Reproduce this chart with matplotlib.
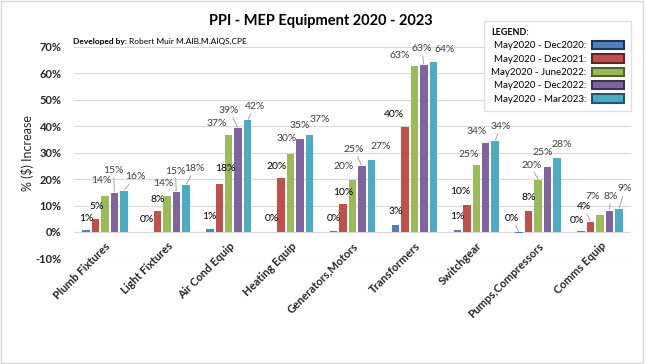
import matplotlib
matplotlib.use("Agg")
import matplotlib.pyplot as plt
import numpy as np
from matplotlib.patches import Patch, Rectangle

plt.rcParams['font.family'] = ['Lato', 'DejaVu Sans']

categories = ['Plumb Fixtures', 'Light Fixtures', 'Air Cond Equip', 'Heating Equip',
              'Generators,Motors', 'Transformers', 'Switchgear', 'Pumps,Compressors',
              'Comms Equip']
series_names = ['May2020 - Dec2020:', 'May2020 - Dec2021:', 'May2020 - June2022:',
                'May2020 - Dec2022:', 'May2020 - Mar2023:']
dec2020 = [0.6, 0.1, 1.3, 0.1, 0.2, 2.7, 0.8, -0.4, 0.2]
dec2021 = [4.8, 7.8, 18.0, 20.3, 10.4, 39.7, 10.2, 8.1, 3.8]
jun2022 = [13.8, 13.7, 36.6, 29.6, 19.8, 62.7, 25.3, 19.6, 6.6]
dec2022 = [14.6, 15.0, 39.2, 35.1, 24.8, 63.0, 33.6, 24.7, 8.1]
mar2023 = [15.6, 17.6, 42.2, 36.7, 27.3, 64.3, 34.3, 28.1, 8.8]
values = [dec2020, dec2021, jun2022, dec2022, mar2023]

colors = ['#4F81BD', '#C0504D', '#9BBB59', '#8064A2', '#4BACC6']
edges = ['#17375E', '#632523', '#4F6228', '#3F3151', '#215968']
label_colors = ['#000000', '#000000', '#404040', '#404040', '#404040']

# label offsets (pixels from bar top) as dragged in the original chart
offsets = [
    [(0, 12), (1, 13), (-4, 15), (-1, 23), (11, 14)],
    [(-1, 12), (0, 12), (-4, 12), (-1, 21), (9, 17)],
    [(0, 12), (6, 16), (-12, 12), (-9, 18), (7, 14)],
    [(0, 13), (-5, 12), (-4, 15), (0, 14), (10, 15)],
    [(0, 13), (0, 12), (-9, 13), (-8, 17), (9, 13)],
    [(0, 13), (-11, 13), (-15, 11), (-2, 17), (11, 13)],
    [(0, 13), (-7, 14), (-8, 11), (-9, 12), (5, 15)],
    [(-7, 15), (0, 13), (-7, 15), (-5, 14), (5, 13)],
    [(-4, 11), (-7, 15), (-7, 18), (1, 14), (6, 20)],
]
leaders = {(0, 3), (0, 4), (1, 3), (1, 4), (2, 3), (2, 4), (4, 3), (5, 3),
           (6, 4), (7, 0), (7, 2), (8, 1), (8, 3), (8, 4)}

fig = plt.figure(figsize=(6.46, 3.64), dpi=100)
ax = fig.add_axes([74 / 646, 1 - 258.4 / 364, 557 / 646, 211.4 / 364])

x = np.arange(len(categories))
step = 0.153
width = 0.121
for k in range(5):
    xs = x + (k - 2) * step
    ax.bar(xs, values[k], width, color=colors[k], zorder=3)
    for i, v in enumerate(values[k]):
        dx, dy = offsets[i][k]
        arrow = None
        if (i, k) in leaders:
            arrow = dict(arrowstyle='-', color='#a6a6a6', lw=0.7, shrinkA=0, shrinkB=1)
        ax.annotate(f"{abs(round(v))}%", (xs[i], v), xytext=(dx, dy),
                    textcoords='offset pixels', ha='center', va='center',
                    fontsize=7.5, color=label_colors[k], arrowprops=arrow, zorder=4)

ax.set_ylim(-10, 70)
ax.set_xlim(-0.5, len(categories) - 0.5)
ax.set_yticks(range(-10, 71, 10))
ax.set_yticklabels([f"{t}%" for t in range(-10, 71, 10)], fontsize=8, fontweight='bold',
                   color='#262626')
ax.grid(axis='y', color='#d9d9d9', lw=0.8, zorder=0)
ax.axhline(0, color='#bfbfbf', lw=0.8, zorder=1)
for s in ['top', 'right', 'left']:
    ax.spines[s].set_visible(False)
ax.spines['bottom'].set_position(('data', 0))
ax.spines['bottom'].set_visible(False)
ax.tick_params(axis='both', length=0)
ax.tick_params(axis='y', pad=9)
ax.tick_params(axis='x', pad=6)
ax.set_xticks(x)
ax.set_xticklabels(categories, rotation=45, ha='right', va='top', rotation_mode='anchor',
                   fontsize=8, fontweight='bold', color='#262626')

fig.text(28 / 646, 1 - 153 / 364, '% ($) Increase', rotation=90, ha='center', va='center',
         fontsize=9, color='#262626')
fig.text(321 / 646, 1 - 21 / 364, 'PPI - MEP Equipment 2020 - 2023', ha='center',
         va='center', fontsize=10.5, fontweight='bold', color='#000000')
t1 = fig.text(73 / 646, 1 - 44 / 364, 'Developed by: ', fontsize=6, fontweight='bold',
              color='#000000')
fig.canvas.draw()
bb = t1.get_window_extent()
fig.text(bb.x1 / 646, 1 - 44 / 364, 'Robert Muir M.AIB,M.AIQS,CPE', fontsize=6,
         color='#000000')

handles = [Patch(facecolor=colors[k], edgecolor=edges[k], lw=1.5) for k in range(5)]
leg = fig.legend(handles, series_names, loc='upper left',
                 bbox_to_anchor=(484 / 646, 1 - 21 / 364), markerfirst=False,
                 title='LEGEND:', title_fontproperties={'weight': 'bold', 'size': 6.5},
                 alignment='left', fontsize=7, frameon=True, fancybox=False,
                 edgecolor='#d9d9d9', handlelength=3.3, handleheight=0.95,
                 labelspacing=0.4, borderpad=0.7, handletextpad=0.6, borderaxespad=0)
leg.get_frame().set_linewidth(1.0)

fig.patches.append(Rectangle((0.002, 0.004), 0.993, 0.994, transform=fig.transFigure,
                             fill=False, edgecolor='#d9d9d9', lw=1))

fig.savefig('out.png', dpi=100)
